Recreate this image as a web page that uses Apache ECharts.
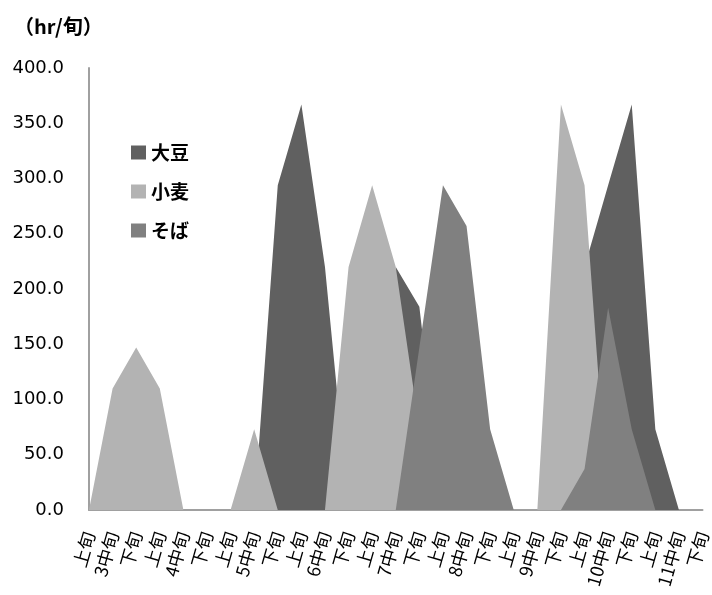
<!DOCTYPE html>
<html>
<head>
<meta charset="utf-8">
<script src="https://cdn.jsdelivr.net/npm/echarts@6/dist/echarts.min.js"></script>
<style>html,body{margin:0;padding:0;background:#fff;}#c{width:712px;height:595px;}</style>
</head>
<body>
<div id="c"></div>
<script>
const categories = ['3月上旬','3月中旬','3月下旬','4月上旬','4月中旬','4月下旬','5月上旬','5月中旬','5月下旬',
  '6月上旬','6月中旬','6月下旬','7月上旬','7月中旬','7月下旬','8月上旬','8月中旬','8月下旬',
  '9月上旬','9月中旬','9月下旬','10月上旬','10月中旬','10月下旬','11月上旬','11月中旬','11月下旬'];
const tickLabels = ['上旬','3中旬','下旬','上旬','4中旬','下旬','上旬','5中旬','下旬',
  '上旬','6中旬','下旬','上旬','7中旬','下旬','上旬','8中旬','下旬',
  '上旬','9中旬','下旬','上旬','10中旬','下旬','上旬','11中旬','下旬'];
const daizu = [0,0,0,0,0,0,0,0,294,367,220,0,0,220,184,0,0,0,0,0,0,220,294,367,73,0,0];
const komugi = [0,110,147,110,0,0,0,73,0,0,0,220,294,220,73,0,0,0,0,0,367,294,0,0,0,0,0];
const soba = [0,0,0,0,0,0,0,0,0,0,0,0,0,0,147,294,257,73,0,0,0,37,183,73,0,0,0];
const seriesNames = ['大豆','小麦','そば'];
const yTicks = {min:0, max:400, interval:50};

const colors = ['#606060','#b3b3b3','#808080'];
const chart = echarts.init(document.getElementById('c'));
const mk = (name, data, i) => ({
  name, type:'line', data, symbol:'none',
  lineStyle:{width:0, color:colors[i]},
  itemStyle:{color:colors[i]},
  areaStyle:{color:colors[i], opacity:1},
  z: 2 + i
});
chart.setOption({
  animation:false,
  title:{text:'（hr/旬）', left:9, top:11, textStyle:{fontSize:20, fontWeight:'bold', color:'#000', fontFamily:'Noto Sans CJK JP'}},
  legend:{orient:'vertical', left:126, top:138, itemWidth:15, itemHeight:14, itemGap:20, icon:'rect',
    data:seriesNames,
    textStyle:{fontSize:19, fontWeight:'bold', color:'#000', fontFamily:'Noto Sans CJK JP'}},
  grid:{left:89, right:6, top:68, bottom:85},
  xAxis:{type:'category', data:categories, boundaryGap:false,
    axisLine:{show:true, lineStyle:{color:'#a0a0a0', width:2}},
    axisTick:{show:false},
    axisLabel:{interval:0, rotate:74, fontSize:18, color:'#000', margin:22, fontFamily:'Noto Sans CJK JP',
      formatter:(v, i) => tickLabels[i]}},
  yAxis:{type:'value', min:yTicks.min, max:yTicks.max, interval:yTicks.interval,
    axisLine:{show:true, lineStyle:{color:'#a0a0a0', width:2}},
    axisTick:{show:false}, splitLine:{show:false},
    axisLabel:{fontSize:18, color:'#000', margin:25, fontFamily:'DejaVu Sans', formatter:v => v.toFixed(1)}},
  series:[mk(seriesNames[0], daizu, 0), mk(seriesNames[1], komugi, 1), mk(seriesNames[2], soba, 2)]
});
</script>
</body>
</html>
